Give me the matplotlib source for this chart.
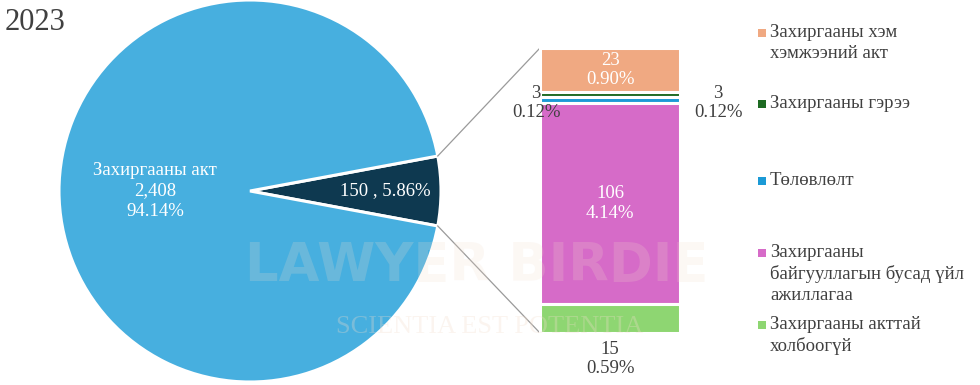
import numpy as np
import matplotlib
matplotlib.use("Agg")
import matplotlib.pyplot as plt

plt.rcParams['font.family'] = ['Liberation Serif', 'DejaVu Serif']

year = "2023"
pie_labels = ["Захиргааны акт", "Бусад"]
pie_values = [2408, 150]
pie_colors = ["#47afdf", "#0e3950"]

bar_labels = ["Захиргааны хэм\nхэмжээний акт", "Захиргааны гэрээ", "Төлөвлөлт",
              "Захиргааны\nбайгууллагын бусад үйл\nажиллагаа", "Захиргааны акттай\nхолбоогүй"]
bar_values = [23, 3, 3, 106, 15]
bar_colors = ["#f0a982", "#1d6a22", "#1b9ad6", "#d66bc8", "#8ed672"]

total = sum(pie_values)
W, H = 980, 385
fig = plt.figure(figsize=(9.8, 3.85), dpi=100)
ax = fig.add_axes([0, 0, 1, 1])

def Y(y):
    return H - y

# pie
cx, cy, r = 250, Y(191), 191
small_ang = pie_values[1] / total * 360
ax.pie(pie_values[::-1], colors=pie_colors[::-1], startangle=-small_ang / 2,
       center=(cx, cy), radius=r, counterclock=True,
       wedgeprops=dict(edgecolor="white", linewidth=2.2), frame=True)

# bar stack
bx, bw = 610, 140
top = Y(48)
scale = 1.9
bottoms = []
cur = top
for v in bar_values:
    cur -= v * scale
    bottoms.append(cur)
heights = [v * scale for v in bar_values]
ax.bar([bx] * len(bar_values), heights, bottom=bottoms, width=bw, color=bar_colors,
       edgecolor="white", linewidth=2.2, zorder=3)

# connector lines
a1 = np.deg2rad(small_ang / 2)
p_up = (cx + r * np.cos(a1), cy + r * np.sin(a1))
p_dn = (cx + r * np.cos(-a1), cy + r * np.sin(-a1))
ax.plot([p_up[0], bx - bw / 2], [p_up[1], top], color="#9a9a9a", lw=0.9, zorder=2)
ax.plot([p_dn[0], bx - bw / 2], [p_dn[1], bottoms[-1]], color="#9a9a9a", lw=0.9, zorder=2)

def pct(v):
    return f"{v / total * 100:.2f}%"

fs = 13.5
dark = "#404040"
# watermark
ax.text(477, Y(266), "LAWYER BIRDIE", ha="center", va="center", fontsize=38,
        fontweight="bold", family="DejaVu Sans", color="#f2ddcc", alpha=0.2, zorder=4)
ax.text(490, Y(327), "SCIENTIA EST POTENTIA", ha="center", va="center", fontsize=19,
        color="#f2ddcc", alpha=0.3, zorder=4)

# pie labels
ax.text(155, Y(191), f"{pie_labels[0]}\n{pie_values[0]:,}\n{pct(pie_values[0])}",
        ha="center", va="center", color="white", fontsize=fs, linespacing=1.3, zorder=5)
ax.text(385, Y(191), f"{pie_values[1]} , {pct(pie_values[1])}", ha="center", va="center",
        color="white", fontsize=fs, zorder=5)

# bar labels
ls = 1.2
mids = [b + h / 2 for b, h in zip(bottoms, heights)]
ax.text(bx, mids[0], f"{bar_values[0]}\n{pct(bar_values[0])}", ha="center", va="center",
        color="white", fontsize=fs, linespacing=ls, zorder=5)
ax.text(536, Y(103), f"{bar_values[1]}\n{pct(bar_values[1])}", ha="center", va="center",
        color=dark, fontsize=fs, linespacing=ls, zorder=5)
ax.text(718, Y(103), f"{bar_values[2]}\n{pct(bar_values[2])}", ha="center", va="center",
        color=dark, fontsize=fs, linespacing=ls, zorder=5)
ax.text(bx, mids[3], f"{bar_values[3]}\n{pct(bar_values[3])}", ha="center", va="center",
        color="white", fontsize=fs, linespacing=ls, zorder=5)
ax.text(bx, Y(359), f"{bar_values[4]}\n{pct(bar_values[4])}", ha="center", va="center",
        color=dark, fontsize=fs, linespacing=ls, zorder=5)

# legend
leg_y = [33, 104, 181, 253, 325]
for lab, col, ly in zip(bar_labels, bar_colors, leg_y):
    ax.scatter([762], [Y(ly)], marker="s", s=26, color=col, zorder=5, linewidths=0)
    ax.text(770, Y(ly) + 9, lab, ha="left", va="top", fontsize=fs, color=dark,
            linespacing=1.3, zorder=5)

ax.text(5, Y(22), year, ha="left", va="center", fontsize=22, color=dark)

ax.set_xlim(0, W)
ax.set_ylim(0, H)
ax.set_aspect("equal")
ax.axis("off")
fig.savefig("out.png", dpi=100, facecolor="white")
